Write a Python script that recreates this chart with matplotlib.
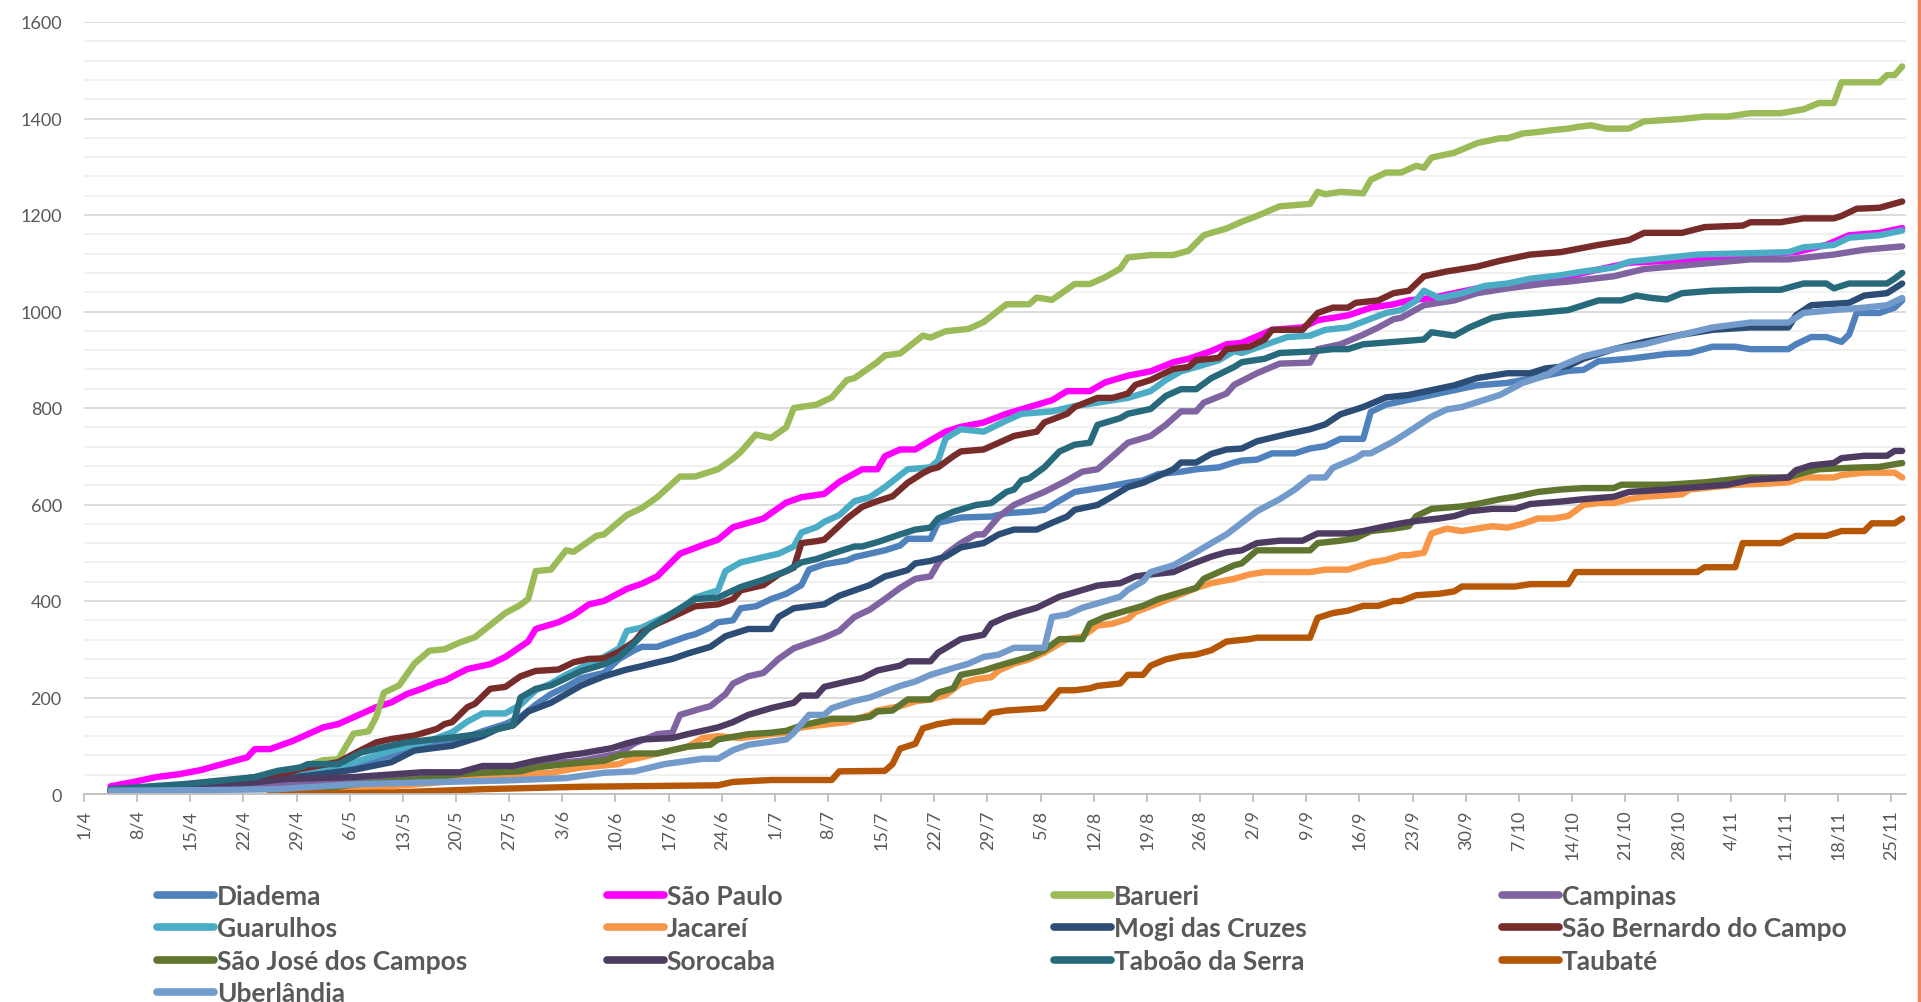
import datetime as dt
import matplotlib
matplotlib.use("Agg")
from matplotlib import pyplot as plt
from matplotlib.lines import Line2D
from matplotlib.ticker import MultipleLocator

plt.rcParams['font.family'] = ['Lato', 'DejaVu Sans']

start = dt.date(2020, 4, 1)

# (day offset from 1/4, value)
diadema = [(3, 8), (10, 14), (15, 20), (22, 30), (25, 45), (30, 50), (35, 60), (40, 80), (45, 100), (48, 107),
           (52, 130), (55, 145), (57, 160), (59, 185), (61, 207), (63, 222), (65, 240), (68, 251), (70, 280),
           (72, 298), (73, 305), (75, 305), (77, 316), (79, 327), (80, 331), (82, 345), (83, 356), (85, 360),
           (86, 385), (88, 389), (90, 404), (92, 415), (94, 433), (95, 465), (97, 476), (100, 484), (101, 491),
           (103, 498), (105, 505), (107, 515), (108, 529), (111, 529), (112, 562), (115, 573), (119, 575),
           (121, 582), (124, 585), (126, 589), (128, 608), (130, 626), (132, 631), (134, 636), (137, 645),
           (139, 650), (141, 663), (144, 668), (146, 673), (149, 677), (151, 687), (152, 691), (154, 693),
           (156, 706), (159, 706), (161, 716), (163, 721), (165, 736), (168, 736), (169, 792), (171, 807),
           (174, 817), (177, 827), (180, 837), (183, 847), (187, 852), (192, 867), (195, 877), (197, 879),
           (199, 897), (203, 902), (208, 912), (211, 914), (214, 927), (217, 927), (219, 922), (224, 922),
           (225, 932), (227, 947), (229, 947), (231, 937), (232, 952), (233, 997), (236, 997), (238, 1008),
           (239, 1023)]
sao_paulo = [(3, 16), (6, 25), (9, 35), (12, 41), (15, 50), (17, 59), (21, 76), (22, 93), (24, 93), (27, 110),
             (31, 138), (33, 145), (36, 166), (38, 180), (40, 190), (42, 207), (44, 218), (46, 231), (47, 235),
             (50, 259), (53, 269), (55, 284), (58, 316), (59, 342), (62, 356), (64, 371), (66, 393), (68, 400),
             (71, 425), (73, 436), (75, 451), (78, 498), (81, 516), (83, 527), (85, 553), (89, 571), (92, 604),
             (94, 615), (97, 622), (99, 647), (102, 673), (104, 673), (105, 700), (107, 714), (109, 714),
             (111, 733), (113, 751), (115, 761), (118, 770), (121, 788), (124, 802), (127, 816), (129, 835),
             (132, 835), (134, 853), (137, 867), (140, 876), (143, 895), (145, 902), (148, 918), (150, 932),
             (152, 935), (156, 962), (160, 967), (162, 982), (166, 992), (169, 1008), (172, 1015), (174, 1023),
             (177, 1028), (183, 1048), (190, 1063), (195, 1073), (203, 1101), (212, 1108), (225, 1123),
             (229, 1138), (232, 1158), (236, 1163), (239, 1173)]
barueri = [(3, 5), (15, 15), (22, 35), (25, 45), (28, 55), (31, 70), (33, 72), (35, 125), (37, 130), (38, 160),
           (39, 210), (41, 225), (43, 270), (45, 297), (47, 300), (49, 314), (51, 325), (53, 350), (55, 375),
           (57, 392), (58, 404), (59, 462), (61, 465), (63, 505), (64, 502), (67, 535), (68, 538), (71, 578),
           (73, 593), (75, 615), (78, 658), (80, 658), (83, 673), (85, 695), (86, 709), (88, 745), (90, 738),
           (92, 760), (93, 800), (96, 807), (98, 822), (100, 858), (101, 862), (103, 884), (104, 895), (105, 909),
           (107, 913), (110, 950), (111, 946), (113, 959), (116, 964), (118, 978), (121, 1015), (124, 1015),
           (125, 1029), (127, 1024), (130, 1057), (132, 1057), (134, 1071), (136, 1089), (137, 1112),
           (140, 1117), (143, 1117), (145, 1126), (147, 1158), (148, 1163), (150, 1172), (152, 1186),
           (154, 1198), (157, 1218), (161, 1223), (162, 1248), (163, 1243), (165, 1248), (168, 1245),
           (169, 1273), (171, 1288), (173, 1288), (175, 1302), (176, 1298), (177, 1319), (180, 1329),
           (183, 1349), (186, 1359), (187, 1359), (189, 1369), (191, 1372), (193, 1376), (195, 1379),
           (196, 1382), (198, 1386), (200, 1379), (203, 1379), (205, 1394), (210, 1399), (213, 1404),
           (216, 1404), (219, 1411), (223, 1411), (226, 1419), (228, 1432), (230, 1432), (231, 1475),
           (236, 1475), (237, 1490), (238, 1490), (239, 1508)]
campinas = [(3, 5), (15, 12), (22, 18), (30, 25), (40, 32), (50, 42), (52, 47), (60, 62), (65, 69), (70, 84),
            (72, 105), (75, 124), (77, 127), (78, 164), (81, 178), (82, 182), (84, 207), (85, 229), (87, 244),
            (89, 251), (91, 280), (93, 302), (95, 313), (97, 324), (99, 338), (101, 367), (103, 382), (105, 404),
            (107, 427), (109, 446), (111, 451), (112, 478), (113, 497), (115, 520), (117, 538), (118, 538),
            (120, 575), (122, 599), (124, 613), (126, 626), (129, 650), (131, 668), (133, 673), (135, 700),
            (137, 728), (140, 742), (142, 765), (144, 793), (146, 793), (147, 811), (150, 830), (151, 848),
            (154, 872), (157, 892), (161, 894), (162, 922), (165, 932), (168, 952), (170, 967), (172, 984),
            (173, 987), (176, 1013), (180, 1023), (183, 1038), (187, 1048), (192, 1058), (195, 1062),
            (201, 1073), (205, 1088), (212, 1098), (219, 1108), (224, 1108), (230, 1118), (234, 1128),
            (239, 1135)]
guarulhos = [(3, 8), (10, 14), (15, 20), (22, 30), (25, 45), (30, 50), (35, 65), (40, 90), (45, 110), (48, 128),
             (50, 150), (52, 167), (55, 167), (57, 185), (59, 215), (61, 229), (63, 247), (65, 262), (68, 284),
             (70, 302), (71, 338), (73, 345), (75, 360), (78, 382), (80, 407), (83, 422), (84, 462), (86, 480),
             (89, 491), (91, 498), (93, 513), (94, 542), (96, 553), (97, 564), (99, 578), (101, 607), (103, 615),
             (105, 636), (108, 673), (111, 677), (112, 691), (113, 737), (115, 756), (118, 751), (121, 774),
             (123, 788), (127, 793), (130, 804), (133, 811), (137, 821), (140, 835), (142, 858), (144, 876),
             (146, 885), (149, 899), (151, 918), (152, 914), (158, 947), (161, 950), (163, 962), (166, 967),
             (171, 997), (173, 1003), (175, 1023), (176, 1043), (178, 1028), (181, 1038), (184, 1053),
             (187, 1058), (190, 1068), (194, 1075), (197, 1083), (201, 1091), (203, 1103), (212, 1118),
             (224, 1123), (226, 1133), (230, 1138), (232, 1153), (236, 1158), (239, 1168)]
jacarei = [(24, 2), (31, 7), (35, 10), (44, 21), (49, 28), (52, 36), (61, 44), (65, 55), (70, 62), (71, 69),
           (74, 80), (77, 91), (79, 98), (81, 116), (83, 120), (86, 116), (90, 124), (92, 127), (94, 138),
           (96, 142), (100, 149), (103, 164), (104, 173), (107, 182), (109, 192), (111, 196), (113, 205),
           (115, 229), (117, 238), (119, 242), (120, 256), (122, 270), (124, 279), (126, 293), (129, 321),
           (131, 326), (133, 349), (135, 353), (137, 363), (138, 377), (141, 395), (144, 414), (146, 427),
           (148, 437), (151, 446), (153, 455), (155, 460), (161, 460), (163, 465), (166, 465), (167, 470),
           (169, 480), (171, 485), (173, 495), (174, 495), (176, 500), (177, 540), (179, 550), (181, 545),
           (183, 550), (185, 555), (187, 552), (189, 560), (191, 571), (193, 571), (195, 576), (197, 599),
           (199, 603), (201, 603), (203, 611), (205, 616), (210, 621), (211, 631), (214, 636), (217, 641),
           (221, 643), (224, 646), (226, 656), (230, 656), (231, 661), (234, 666), (238, 666), (239, 656)]
mogi = [(3, 5), (15, 15), (22, 25), (30, 40), (35, 50), (40, 66), (43, 90), (48, 100), (52, 120), (54, 135),
        (56, 142), (58, 171), (61, 189), (63, 207), (65, 225), (68, 244), (71, 258), (73, 265), (74, 269),
        (77, 280), (79, 291), (82, 305), (84, 327), (87, 342), (90, 342), (91, 367), (93, 385), (95, 389),
        (97, 393), (99, 411), (101, 422), (103, 433), (105, 451), (106, 455), (108, 464), (109, 478), (111, 483),
        (113, 492), (115, 511), (118, 520), (120, 538), (122, 548), (125, 548), (127, 562), (129, 575),
        (130, 589), (133, 599), (135, 617), (137, 636), (139, 645), (141, 659), (143, 673), (144, 687),
        (146, 687), (148, 705), (150, 714), (152, 716), (154, 731), (158, 746), (161, 756), (163, 766),
        (165, 787), (166, 792), (168, 802), (171, 822), (174, 827), (177, 837), (180, 847), (183, 862),
        (187, 872), (190, 872), (192, 882), (195, 887), (197, 902), (201, 922), (205, 937), (210, 952),
        (214, 962), (219, 967), (224, 967), (225, 992), (227, 1013), (232, 1018), (234, 1033), (237, 1038),
        (239, 1058)]
sao_bernardo = [(3, 8), (15, 18), (22, 35), (25, 38), (28, 52), (33, 66), (35, 83), (38, 107), (40, 114),
                (43, 121), (46, 135), (47, 145), (48, 149), (50, 180), (51, 187), (53, 218), (55, 222), (57, 244),
                (59, 255), (62, 258), (64, 273), (66, 280), (68, 281), (70, 295), (72, 316), (73, 335), (75, 353),
                (77, 367), (79, 382), (80, 389), (83, 393), (85, 404), (86, 422), (89, 433), (91, 455), (93, 469),
                (94, 520), (96, 524), (97, 527), (99, 556), (100, 571), (102, 595), (104, 607), (106, 617),
                (108, 645), (110, 665), (111, 673), (112, 677), (114, 700), (115, 710), (118, 714), (120, 728),
                (122, 742), (125, 751), (126, 770), (129, 788), (130, 802), (133, 821), (135, 821), (137, 830),
                (138, 848), (140, 858), (143, 881), (145, 885), (146, 899), (149, 904), (150, 922), (153, 927),
                (155, 942), (156, 962), (160, 962), (162, 997), (164, 1008), (166, 1008), (167, 1018),
                (170, 1023), (172, 1038), (174, 1043), (175, 1058), (176, 1073), (179, 1083), (183, 1093),
                (186, 1105), (190, 1118), (194, 1123), (199, 1138), (203, 1148), (205, 1163), (210, 1163),
                (213, 1175), (218, 1178), (219, 1185), (223, 1185), (226, 1193), (230, 1193), (231, 1198),
                (233, 1213), (236, 1215), (239, 1228)]
sao_jose = [(24, 2), (30, 8), (35, 20), (44, 31), (49, 41), (52, 44), (57, 47), (59, 55), (63, 62), (65, 65),
            (68, 69), (70, 80), (72, 84), (75, 84), (77, 91), (79, 98), (82, 102), (83, 113), (87, 124), (90, 127),
            (92, 131), (94, 142), (96, 149), (98, 156), (101, 156), (103, 160), (104, 171), (106, 173), (108, 196),
            (111, 196), (112, 210), (114, 219), (115, 247), (118, 256), (120, 266), (122, 275), (124, 284),
            (126, 298), (128, 321), (131, 321), (132, 353), (134, 367), (137, 381), (139, 390), (141, 404),
            (144, 418), (146, 427), (147, 446), (149, 460), (151, 474), (152, 478), (154, 505), (161, 505),
            (162, 520), (165, 525), (167, 530), (169, 545), (172, 550), (174, 555), (175, 576), (177, 591),
            (181, 596), (183, 601), (186, 611), (188, 616), (191, 626), (194, 631), (197, 634), (201, 634),
            (202, 641), (208, 641), (213, 646), (216, 651), (219, 656), (224, 656), (226, 666), (228, 673),
            (232, 676), (236, 678), (239, 686)]
sorocaba = [(3, 10), (10, 14), (20, 21), (26, 31), (35, 35), (44, 45), (49, 45), (52, 58), (56, 58), (59, 69),
            (63, 80), (65, 84), (69, 95), (71, 105), (73, 113), (77, 116), (79, 124), (81, 131), (83, 138),
            (85, 149), (87, 164), (90, 178), (93, 189), (94, 204), (96, 204), (97, 222), (100, 233), (102, 240),
            (104, 256), (107, 266), (108, 275), (111, 275), (112, 293), (115, 321), (118, 330), (119, 353),
            (121, 367), (123, 377), (125, 386), (128, 409), (130, 418), (133, 432), (136, 437), (138, 451),
            (140, 455), (143, 460), (145, 474), (148, 492), (150, 501), (152, 505), (154, 520), (157, 525),
            (160, 525), (162, 540), (166, 540), (168, 545), (171, 555), (173, 561), (175, 566), (178, 571),
            (180, 576), (182, 586), (185, 591), (188, 591), (190, 601), (194, 606), (197, 611), (201, 616),
            (203, 626), (208, 631), (212, 636), (216, 641), (219, 651), (224, 656), (225, 671), (227, 681),
            (230, 686), (231, 696), (234, 701), (237, 701), (238, 711), (239, 711)]
taboao = [(3, 10), (13, 21), (22, 35), (25, 48), (28, 55), (29, 62), (33, 62), (36, 86), (39, 97), (42, 107),
          (46, 114), (48, 117), (52, 125), (54, 135), (56, 142), (57, 200), (59, 218), (61, 225), (63, 240),
          (65, 255), (68, 269), (70, 284), (72, 313), (74, 345), (77, 375), (80, 404), (83, 407), (86, 429),
          (89, 444), (92, 462), (94, 480), (96, 487), (98, 498), (101, 513), (102, 513), (104, 522), (107, 538),
          (109, 548), (111, 552), (112, 571), (114, 585), (117, 599), (119, 603), (121, 626), (122, 631),
          (123, 650), (124, 654), (126, 677), (128, 710), (130, 724), (132, 728), (133, 765), (136, 779),
          (137, 788), (140, 798), (142, 825), (144, 839), (146, 839), (148, 862), (151, 885), (152, 895),
          (155, 902), (157, 914), (161, 917), (164, 922), (166, 922), (168, 932), (172, 937), (176, 942),
          (177, 957), (180, 950), (182, 967), (185, 987), (187, 992), (191, 997), (195, 1003), (197, 1013),
          (199, 1023), (202, 1023), (204, 1033), (206, 1028), (208, 1025), (210, 1038), (214, 1043),
          (219, 1045), (223, 1045), (226, 1058), (229, 1058), (230, 1048), (232, 1058), (237, 1058),
          (238, 1068), (239, 1080)]
taubate = [(24, 0), (40, 3), (52, 10), (65, 15), (83, 18), (85, 25), (90, 29), (98, 29), (99, 47), (105, 48),
           (106, 62), (107, 94), (109, 104), (110, 136), (112, 145), (114, 150), (118, 150), (119, 168),
           (121, 173), (126, 178), (128, 215), (130, 215), (132, 219), (133, 224), (136, 229), (137, 247),
           (139, 247), (140, 266), (142, 279), (144, 286), (146, 289), (148, 298), (149, 307), (150, 316),
           (153, 321), (154, 324), (161, 324), (162, 365), (164, 375), (166, 380), (168, 390), (170, 390),
           (172, 400), (173, 400), (175, 412), (178, 415), (180, 420), (181, 430), (188, 430), (190, 435),
           (195, 435), (196, 460), (212, 460), (213, 470), (217, 470), (218, 520), (223, 520), (225, 535),
           (229, 535), (231, 545), (234, 545), (235, 561), (238, 561), (239, 571)]
uberlandia = [(3, 7), (15, 8), (25, 10), (35, 20), (44, 24), (55, 28), (63, 33), (68, 44), (72, 47), (76, 62),
              (81, 73), (83, 73), (85, 91), (87, 102), (92, 113), (93, 127), (95, 164), (97, 164), (98, 178),
              (101, 193), (103, 200), (105, 212), (107, 224), (109, 233), (111, 247), (114, 261), (116, 270),
              (118, 284), (120, 289), (122, 303), (126, 303), (127, 367), (129, 372), (131, 386), (133, 395),
              (136, 409), (137, 423), (139, 441), (140, 460), (143, 474), (145, 492), (148, 520), (150, 538),
              (152, 562), (154, 586), (157, 611), (159, 631), (161, 656), (163, 656), (164, 676), (167, 696),
              (168, 706), (169, 706), (172, 731), (174, 751), (177, 782), (179, 797), (181, 802), (184, 817),
              (186, 827), (189, 852), (192, 867), (194, 887), (197, 907), (201, 922), (205, 932), (210, 952),
              (214, 967), (219, 977), (224, 977), (226, 997), (230, 1003), (234, 1008), (237, 1013), (239, 1028)]

names = ['Diadema', 'São Paulo', 'Barueri', 'Campinas', 'Guarulhos', 'Jacareí', 'Mogi das Cruzes',
         'São Bernardo do Campo', 'São José dos Campos', 'Sorocaba', 'Taboão da Serra', 'Taubaté', 'Uberlândia']
colors = ['#4F81BD', '#FF00FF', '#9BBB59', '#8064A2', '#4BACC6', '#F79646', '#2C4D75',
          '#772C2A', '#5F7530', '#4D3B62', '#276A7C', '#B65708', '#729ACA']
series = [diadema, sao_paulo, barueri, campinas, guarulhos, jacarei, mogi,
          sao_bernardo, sao_jose, sorocaba, taboao, taubate, uberlandia]

W, H = 1921, 1003
fig = plt.figure(figsize=(W / 100, H / 100), dpi=100)
ax = fig.add_axes([84 / W, 1 - 795 / H, (1906 - 84) / W, (795 - 23) / H])

handles = []
for name, data, c in zip(names, series, colors):
    xs = [d + 0.5 for d, v in data]
    ys = [v for d, v in data]
    ln, = ax.plot(xs, ys, color=c, lw=4.6, solid_joinstyle='round', solid_capstyle='round', label=name)
    handles.append(ln)

ax.set_xlim(0, 240)
ax.set_ylim(0, 1600)
ax.yaxis.set_major_locator(MultipleLocator(200))
ax.yaxis.set_minor_locator(MultipleLocator(40))
ax.grid(axis='y', which='major', color='#D9D9D9', lw=1.3)
ax.grid(axis='y', which='minor', color='#F0F0F0', lw=1.3)
ax.set_axisbelow(True)
for s in ['top', 'right', 'left']:
    ax.spines[s].set_visible(False)
ax.spines['bottom'].set_color('#BFBFBF')
ax.spines['bottom'].set_linewidth(1.3)

tick_days = list(range(0, 239, 7))
ax.set_xticks(tick_days)
labels = []
for d in tick_days:
    t = start + dt.timedelta(days=d)
    labels.append(f'{t.day}/{t.month}')
ax.set_xticklabels(labels)
ax.tick_params(axis='x', length=6, width=1.3, color='#BFBFBF', labelrotation=90, labelsize=13,
               labelcolor='#595959', pad=5)
ax.tick_params(axis='y', which='both', length=0, labelsize=13, labelcolor='#595959', pad=16)

# legend in four columns, placed like the original
cols = [[0, 4, 8, 12], [1, 5, 9], [2, 6, 10], [3, 7, 11]]
col_x = [157, 607, 1054, 1502]
for idx, x0 in zip(cols, col_x):
    leg = fig.legend([handles[i] for i in idx], [names[i] for i in idx], loc='upper left',
                     bbox_to_anchor=(x0 / W, 1 - 885 / H), frameon=False, borderpad=0, borderaxespad=0,
                     handlelength=2.15, handletextpad=0.12, labelspacing=0.32,
                     prop={'family': 'Lato', 'weight': 'bold', 'size': 19})
    for t in leg.get_texts():
        t.set_color('#595959')
    for h in leg.legend_handles:
        h.set_linewidth(5.5)
        h.set_solid_capstyle('round')

fig.add_artist(Line2D([1919 / W, 1919 / W], [0, 1], transform=fig.transFigure, color='#F0845C', lw=2.5))

fig.savefig('out.png', dpi=100, facecolor='white')
